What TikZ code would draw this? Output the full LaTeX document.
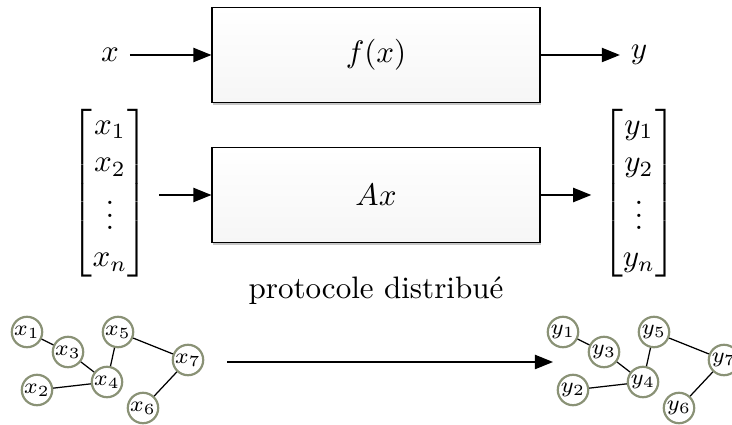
\documentclass[tikz,border=0pt]{standalone}
\usepackage{amsmath}
\usepackage{tikz}
\usetikzlibrary{arrows.meta,shadows}
\usepackage{xcolor}
\definecolor{vertline}{RGB}{138,146,118}

\begin{document}
\begin{tikzpicture}[x=0.322pt, y=-0.322pt,
  box/.style={draw, minimum width=105.6pt, minimum height=30.6pt, top color=white, bottom color=gray!7,
    drop shadow={shadow xshift=0.3pt, shadow yshift=-0.9pt, opacity=0.45}},
  vert/.style={circle, draw=vertline, line width=0.7pt, fill=white, minimum size=9.8pt, inner sep=0pt, font=\scriptsize},
  arr/.style={-{Triangle[length=5.8pt,width=4.6pt]}},
]
\clip (0,0) rectangle (732,425);
\node[box] (f) at (376,55) {$f(x)$};
\node[box] (A) at (376,195) {$Ax$};
\node (x) at (110,55) {$x$};
\node (y) at (639,55) {$y$};
\draw[arr] (x) -- (f);
\draw[arr] (f) -- (y);
\node (xv) at (110,193) {$\begin{bmatrix} x_1\\ x_2\\ \vdots\\ x_n \end{bmatrix}$};
\node (yv) at (639,193) {$\begin{bmatrix} y_1\\ y_2\\ \vdots\\ y_n \end{bmatrix}$};
\draw[arr] (xv.east |- A.west) -- (A.west);
\draw[arr] (A.east) -- (yv.west |- A.east);
\node (proto) at (376,291) {protocole distribué};
\foreach \v/\px/\py in {1/27/332, 2/37/390, 3/68/352, 4/107/382, 5/118/332, 6/143/408, 7/188/360} {
  \node[vert] (x\v) at (\px,\py) {$x_{\v}$};
  \node[vert] (y\v) at (\px+536,\py) {$y_{\v}$};
}
\foreach \a/\b in {1/3, 3/4, 4/5, 4/2, 5/7, 7/6} {
  \draw (x\a) -- (x\b);
  \draw (y\a) -- (y\b);
}
\coordinate (gin) at (227,362);
\coordinate (gout) at (553,362);
\draw[arr] (gin) -- (gout);
\end{tikzpicture}
\end{document}
